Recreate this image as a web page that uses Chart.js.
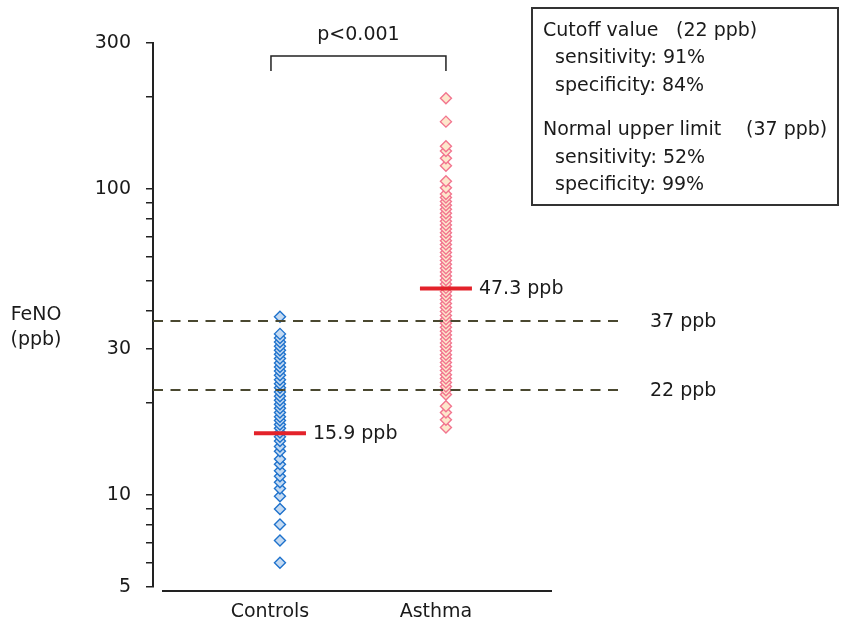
<!DOCTYPE html>
<html>
<head>
<meta charset="utf-8">
<script src="https://cdn.jsdelivr.net/npm/chart.js@4/dist/chart.umd.min.js"></script>
<style>
  html, body { margin: 0; padding: 0; background: #fff; }
  #wrap { width: 843px; height: 625px; position: relative; }
</style>
</head>
<body>
<div id="wrap"><canvas id="fenoChart"></canvas></div>
<script>
// groupes
const categories = ['Controls', 'Asthma'];

// FeNO (ppb)
const controls = [6.0, 7.1, 8.0, 9.0, 9.9, 10.5, 11.0, 11.5, 12.0, 12.6, 13.1, 13.9, 14.4,
  15.0, 15.5, 16.0, 16.5, 17.0, 17.5, 18.0, 18.6, 19.2, 19.8, 20.4, 21.0, 21.7, 22.4,
  23.1, 23.8, 24.6, 25.4, 26.2, 27.0, 27.9, 28.8, 29.7, 30.6, 31.6, 32.6, 33.6, 38.2];
const asthma = [16.6, 17.6, 18.6, 19.5, 21.3, 22.0, 22.6, 23.3, 24.0, 24.7, 25.5, 26.3,
  27.1, 27.9, 28.7, 29.6, 30.5, 31.4, 32.3, 33.3, 34.3, 35.3, 36.4, 37.5, 38.6, 39.8,
  41.0, 42.2, 43.5, 44.8, 46.1, 47.5, 48.9, 50.4, 51.9, 53.5, 55.1, 56.7, 58.4, 60.2,
  62.0, 63.8, 65.8, 67.7, 69.8, 71.9, 74.0, 76.2, 78.5, 80.9, 83.3, 85.8, 88.4, 91.0,
  93.7, 96.3, 101, 106, 119, 126, 133, 138, 166, 198];

// médianes
const medians = [15.9, 47.3];
const medianLabels = ['15.9 ppb', '47.3 ppb'];

// seuils
const refLines = [37, 22];
const refLabels = ['37 ppb', '22 ppb'];

// axe Y
const yTicks = [5, 6, 7, 8, 9, 10, 20, 30, 40, 50, 60, 70, 80, 90, 100, 200, 300];
const yLabels = [5, 10, 30, 100, 300];

// encadré
const boxLines = [
  ['Cutoff value', '(22 ppb)'],
  ['  sensitivity: 91%', ''],
  ['  specificity: 84%', ''],
  ['Normal upper limit', '(37 ppb)'],
  ['  sensitivity: 52%', ''],
  ['  specificity: 99%', '']
];

const FONT = "'DejaVu Sans', 'Liberation Sans', sans-serif";
const TXT = '#1a1a1a';

const overlay = {
  id: 'overlay',
  afterDatasetsDraw(chart) {
    const { ctx, chartArea, scales: { x, y } } = chart;
    ctx.save();
    ctx.fillStyle = TXT;
    ctx.font = '19px ' + FONT;
    ctx.textBaseline = 'middle';

    // lignes pointillées
    ctx.strokeStyle = '#4a4830';
    ctx.lineWidth = 2.2;
    ctx.setLineDash([10, 7.5]);
    refLines.forEach((v, i) => {
      const py = Math.round(y.getPixelForValue(v));
      ctx.beginPath();
      ctx.moveTo(chartArea.left, py);
      ctx.lineTo(chartArea.right + 73, py);
      ctx.stroke();
      ctx.textAlign = 'left';
      ctx.fillText(refLabels[i], chartArea.right + 98, py + 1);
    });
    ctx.setLineDash([]);

    // étiquettes des médianes
    medians.forEach((v, i) => {
      ctx.textAlign = 'left';
      ctx.fillText(medianLabels[i], x.getPixelForValue(i + 1) + 33, y.getPixelForValue(v) + 1);
    });

    // axe X
    ctx.strokeStyle = '#222';
    ctx.lineWidth = 2;
    ctx.beginPath();
    ctx.moveTo(chartArea.left + 9, chartArea.bottom + 4);
    ctx.lineTo(chartArea.right, chartArea.bottom + 4);
    ctx.stroke();

    // crochet p<0.001
    const x1 = x.getPixelForValue(1) - 9, x2 = x.getPixelForValue(2);
    ctx.lineWidth = 1.5;
    ctx.beginPath();
    ctx.moveTo(x1, 71); ctx.lineTo(x1, 56); ctx.lineTo(x2, 56); ctx.lineTo(x2, 71);
    ctx.stroke();
    ctx.textAlign = 'center';
    ctx.fillText('p<0.001', (x1 + x2) / 2, 35);

    // titre axe Y
    ctx.fillText('FeNO', 36, 315);
    ctx.fillText('(ppb)', 36, 340);

    // encadré
    ctx.strokeStyle = '#333';
    ctx.lineWidth = 2;
    ctx.strokeRect(532, 8, 306, 197);
    const rows = [31, 58, 86, 130, 158, 185];
    ctx.textAlign = 'left';
    boxLines.forEach((l, i) => {
      ctx.fillText(l[0], 543, rows[i]);
      if (l[1]) ctx.fillText(l[1], i === 0 ? 676 : 746, rows[i]);
    });
    ctx.restore();
  }
};

new Chart(document.getElementById('fenoChart'), {
  type: 'scatter',
  data: {
    datasets: [
      {
        label: 'Median',
        data: medians.map((v, i) => ({ x: i + 1, y: v })),
        pointStyle: 'line',
        pointRadius: 26,
        pointHoverRadius: 26,
        borderColor: '#e3222a',
        pointBorderWidth: 4,
        order: 0
      },
      {
        label: 'Controls',
        data: controls.map(v => ({ x: 1, y: v })),
        pointStyle: 'rectRot',
        pointRadius: 5.5,
        pointBorderWidth: 1.4,
        borderColor: '#1f72cc',
        backgroundColor: '#c4daf2',
        order: 1
      },
      {
        label: 'Asthma',
        data: asthma.map(v => ({ x: 2, y: v })),
        pointStyle: 'rectRot',
        pointRadius: 5.5,
        pointBorderWidth: 1.4,
        borderColor: '#f2758f',
        backgroundColor: '#fde7cc',
        order: 1
      }
    ]
  },
  options: {
    responsive: true,
    maintainAspectRatio: false,
    animation: false,
    layout: { padding: { left: 0, top: 43, right: 291, bottom: 0 } },
    plugins: {
      legend: { display: false },
      tooltip: { enabled: false }
    },
    scales: {
      x: {
        type: 'linear',
        min: 0.235,
        max: 2.639,
        grid: { display: false, drawTicks: false },
        border: { display: false },
        afterBuildTicks: s => { s.ticks = categories.map((c, i) => ({ value: i + 1 })); },
        afterFit: s => { s.height = 38; },
        ticks: {
          autoSkip: false,
          padding: 14,
          labelOffset: -10,
          color: TXT,
          font: { family: FONT, size: 19 },
          callback: v => categories[v - 1] || ''
        }
      },
      y: {
        type: 'logarithmic',
        min: 5,
        max: 300,
        afterBuildTicks: s => { s.ticks = yTicks.map(v => ({ value: v })); },
        afterFit: s => { s.width = 153; },
        grid: { drawOnChartArea: false, drawTicks: true, tickLength: 7, color: '#222', lineWidth: 1.5 },
        border: { display: true, color: '#222', width: 2 },
        ticks: {
          autoSkip: false,
          padding: 15,
          color: TXT,
          font: { family: FONT, size: 19 },
          callback: v => yLabels.includes(v) ? String(v) : ''
        }
      }
    }
  },
  plugins: [overlay]
});
</script>
</body>
</html>
